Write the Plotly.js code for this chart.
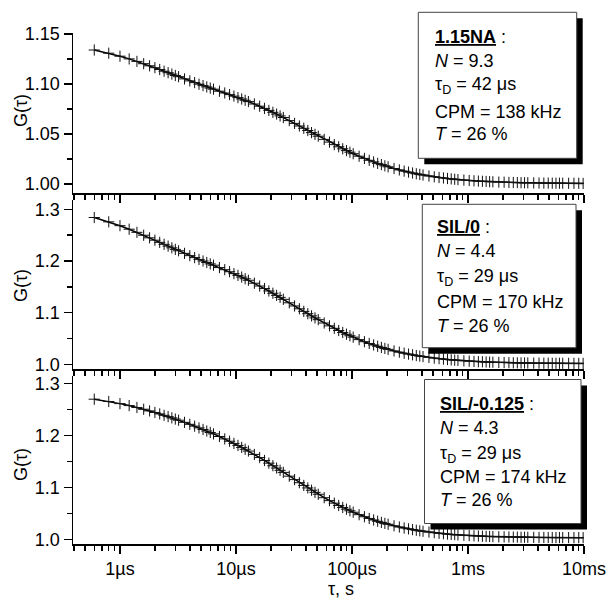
<!DOCTYPE html>
<html><head><meta charset="utf-8">
<script src="https://cdn.plot.ly/plotly-3.0.1.min.js"></script>
<style>html,body{margin:0;padding:0;background:#fff}#chart{width:607px;height:601px}</style>
</head><body><div id="chart"></div>
<script>
// lag times in microseconds
const tauMicro = [0.6,0.8,1.0,1.2,1.4,1.6,1.8,2.0,2.2,2.4,2.6,2.8,3.0,3.2,
3.6,4.0,4.4,4.8,5.2,5.6,6.0,6.4,
7.2,8.0,8.8,9.6,10.4,11.2,12.0,12.8,
14.4,16,17.6,19.2,20.8,22.4,24,25.6,
28.8,32,35.2,38.4,41.6,44.8,48,51.2,
57.6,64,70.4,76.8,83.2,89.6,96,102.4,
115.2,128,140.8,153.6,166.4,179.2,192,204.8,
230.4,256,281.6,307.2,332.8,358.4,384,409.6,
460.8,512,563.2,614.4,665.6,716.8,768,819.2,
921.6,1024,1126.4,1228.8,1331.2,1433.6,1536,1638.4,
1843.2,2048,2252.8,2457.6,2662.4,2867.2,3072,3276.8,
3686.4,4096,4505.6,4915.2,5324.8,5734.4,6144,6553.6,
7372.8,8192,9011.2,9830.4];

const gNA = [1.1340,1.1308,1.1278,1.1251,1.1226,1.1203,1.1182,1.1163,1.1145,1.1128,1.1113,1.1099,1.1085,1.1073,
1.1051,1.1031,1.1014,1.0998,1.0984,1.0971,1.0959,1.0948,
1.0928,1.0910,1.0894,1.0879,1.0864,1.0850,1.0837,1.0824,
1.0800,1.0778,1.0756,1.0736,1.0717,1.0699,1.0681,1.0665,
1.0634,1.0606,1.0580,1.0557,1.0535,1.0514,1.0496,1.0478,
1.0446,1.0419,1.0394,1.0372,1.0352,1.0334,1.0318,1.0303,
1.0278,1.0256,1.0237,1.0221,1.0206,1.0194,1.0182,1.0172,
1.0155,1.0141,1.0129,1.0119,1.0110,1.0102,1.0096,1.0090,
1.0080,1.0072,1.0065,1.0060,1.0055,1.0051,1.0047,1.0044,
1.0039,1.0035,1.0032,1.0029,1.0027,1.0025,1.0023,1.0022,
1.0019,1.0018,1.0016,1.0015,1.0014,1.0013,1.0012,1.0012,
1.0011,1.0010,1.0009,1.0009,1.0008,1.0008,1.0008,1.0008,
1.0007,1.0007,1.0007,1.0006];

const gSIL0 = [1.2841,1.2757,1.2683,1.2615,1.2554,1.2498,1.2448,1.2402,1.2360,1.2322,1.2287,1.2254,1.2224,1.2197,
1.2147,1.2103,1.2065,1.2030,1.1999,1.1970,1.1943,1.1918,
1.1872,1.1831,1.1792,1.1755,1.1721,1.1688,1.1656,1.1626,
1.1569,1.1515,1.1466,1.1419,1.1375,1.1334,1.1295,1.1258,
1.1190,1.1129,1.1074,1.1024,1.0979,1.0937,1.0898,1.0863,
1.0799,1.0744,1.0696,1.0654,1.0616,1.0582,1.0552,1.0525,
1.0477,1.0437,1.0403,1.0374,1.0349,1.0326,1.0307,1.0289,
1.0259,1.0235,1.0214,1.0197,1.0183,1.0170,1.0159,1.0149,
1.0133,1.0119,1.0109,1.0100,1.0092,1.0086,1.0080,1.0075,
1.0067,1.0061,1.0055,1.0051,1.0048,1.0045,1.0042,1.0040,
1.0036,1.0034,1.0031,1.0029,1.0028,1.0027,1.0026,1.0025,
1.0023,1.0022,1.0021,1.0021,1.0020,1.0019,1.0019,1.0019,
1.0018,1.0018,1.0017,1.0017];

const gSIL125 = [1.2694,1.2650,1.2609,1.2571,1.2535,1.2501,1.2469,1.2439,1.2411,1.2384,1.2359,1.2335,1.2312,1.2290,
1.2249,1.2211,1.2176,1.2143,1.2112,1.2082,1.2054,1.2027,
1.1977,1.1930,1.1886,1.1844,1.1805,1.1767,1.1731,1.1697,
1.1632,1.1572,1.1516,1.1464,1.1415,1.1370,1.1327,1.1287,
1.1214,1.1148,1.1089,1.1036,1.0988,1.0944,1.0903,1.0866,
1.0800,1.0744,1.0695,1.0651,1.0613,1.0579,1.0549,1.0521,
1.0474,1.0434,1.0401,1.0372,1.0347,1.0325,1.0306,1.0289,
1.0260,1.0237,1.0217,1.0201,1.0187,1.0174,1.0164,1.0155,
1.0139,1.0127,1.0116,1.0108,1.0101,1.0095,1.0090,1.0085,
1.0077,1.0072,1.0067,1.0063,1.0060,1.0057,1.0055,1.0053,
1.0049,1.0047,1.0045,1.0043,1.0042,1.0040,1.0040,1.0039,
1.0037,1.0036,1.0036,1.0035,1.0034,1.0034,1.0034,1.0033,
1.0033,1.0032,1.0032,1.0032];

const xTickVals = [1e-6, 1e-5, 1e-4, 1e-3, 1e-2];
const xTickText = ['1µs', '10µs', '100µs', '1ms', '10ms'];
const minorMult = [2,3,4,5,6,7,8,9];
const minorDecades = [1e-7, 1e-6, 1e-5, 1e-4, 1e-3];

const boxTitles = ['1.15NA', 'SIL/0', 'SIL/-0.125'];
const boxN = ['9.3', '4.4', '4.3'];
const boxTauD = ['42', '29', '29'];
const boxCPM = ['138', '170', '174'];
const boxT = ['26', '26', '26'];

const yLabel = 'G(τ)';
const xLabel = 'τ, s';

// ---- geometry helpers (pixels -> paper) ----
const ML = 73, MR = 23, MT = 33, MB = 57, W = 607, H = 601;
const PW = W - ML - MR, PH = H - MT - MB;
const px = x => (x - ML) / PW;
const py = y => (H - MB - y) / PH;

const FONT = 'Liberation Sans, Arial, Helvetica, sans-serif';
const tauSec = tauMicro.map(t => t * 1e-6);
const minorVals = [];
minorDecades.forEach(d => minorMult.forEach(m => { if (m * d >= 3.9e-7 && m * d <= 1e-2) minorVals.push(m * d); }));

function trace(y, xa, ya) {
  return {
    x: tauSec, y: y, xaxis: xa, yaxis: ya, type: 'scatter', mode: 'lines+markers',
    line: {color: '#000', width: 1.5},
    marker: {symbol: 'cross-thin-open', size: 8, color: '#111', line: {width: 1, color: '#111'}},
    showlegend: false, hoverinfo: 'skip'
  };
}

const data = [trace(gNA, 'x', 'y'), trace(gSIL0, 'x2', 'y2'), trace(gSIL125, 'x3', 'y3')];

function xAxis(anchor, labels) {
  return {
    type: 'log', range: [-6.405, -2], domain: [0, 1], anchor: anchor,
    showline: true, linecolor: '#000', linewidth: 1.5, mirror: false,
    ticks: 'outside', ticklen: 8, tickwidth: 1.5, tickcolor: '#000',
    tickmode: 'array', tickvals: xTickVals, ticktext: xTickText,
    showticklabels: labels, tickfont: {family: FONT, size: 18, color: '#000'},
    minor: {tickmode: 'array', tickvals: minorVals, ticks: 'outside', ticklen: 5, tickwidth: 1.5, tickcolor: '#000', showgrid: false},
    showgrid: false, zeroline: false
  };
}
function yAxis(anchor, dom, rng, dt, fmt) {
  return {
    domain: dom, range: rng, anchor: anchor,
    showline: true, linecolor: '#000', linewidth: 1.5, mirror: false,
    ticks: 'outside', ticklen: 8, tickwidth: 1.5, tickcolor: '#000',
    tickmode: 'linear', tick0: 1, dtick: dt, tickformat: fmt,
    tickfont: {family: FONT, size: 18, color: '#000'},
    minor: {dtick: dt / 2, tick0: 1, ticks: 'outside', ticklen: 5, tickwidth: 1.5, tickcolor: '#000', showgrid: false},
    showgrid: false, zeroline: false
  };
}

const layout = {
  width: W, height: H, margin: {l: ML, r: MR, t: MT, b: MB, pad: 0},
  paper_bgcolor: '#fff', plot_bgcolor: 'rgba(0,0,0,0)',
  font: {family: FONT, size: 18, color: '#000'},
  showlegend: false,
  xaxis: xAxis('y', false),
  xaxis2: xAxis('y2', false),
  xaxis3: xAxis('y3', true),
  yaxis: yAxis('x', [py(193), py(33)], [0.991, 1.151], 0.05, '.2f'),
  yaxis2: yAxis('x2', [py(369.3), py(200)], [0.9903, 1.318], 0.1, '.1f'),
  yaxis3: yAxis('x3', [py(544), py(376)], [0.991, 1.314], 0.1, '.1f'),
  shapes: [], annotations: []
};

// text boxes with drop shadow (pixel geometry)
const boxes = [
  {l: 418.3, r: 576.7, t: 12.3, b: 158.3, tx: 433, ys: [37, 60.5, 82.5, 112, 134]},
  {l: 422.3, r: 576.0, t: 204.3, b: 347.7, tx: 435, ys: [227.5, 251, 274, 302, 326]},
  {l: 424.5, r: 581.0, t: 379.5, b: 523.5, tx: 438, ys: [404, 427.5, 451, 476.7, 500]}
];
boxes.forEach((b, i) => {
  layout.shapes.push({type: 'rect', xref: 'paper', yref: 'paper', layer: 'above',
    x0: px(b.l + 6), x1: px(b.r + 6), y0: py(b.b + 6), y1: py(b.t + 6),
    fillcolor: '#000', line: {width: 0}});
  layout.shapes.push({type: 'rect', xref: 'paper', yref: 'paper', layer: 'above',
    x0: px(b.l), x1: px(b.r), y0: py(b.b), y1: py(b.t),
    fillcolor: '#fff', line: {width: 1, color: '#444'}});
  const lines = [
    '<b><u>' + boxTitles[i] + '</u></b> :',
    '<i>N</i> = ' + boxN[i],
    'τ<sub>D</sub> = ' + boxTauD[i] + ' μs',
    'CPM = ' + boxCPM[i] + ' kHz',
    '<i>T</i> = ' + boxT[i] + ' %'
  ];
  lines.forEach((t, k) => {
    layout.annotations.push({xref: 'paper', yref: 'paper', x: px(b.tx), y: py(b.ys[k] + (k === 2 ? 3 : 0)),
      xanchor: 'left', yanchor: 'middle', showarrow: false, text: t,
      font: {family: FONT, size: 18, color: '#000'}});
  });
});

// axis titles
[111, 286, 465].forEach(yc => {
  layout.annotations.push({xref: 'paper', yref: 'paper', x: px(21), y: py(yc), xanchor: 'center', yanchor: 'middle',
    textangle: -90, showarrow: false, text: yLabel, font: {family: FONT, size: 18, color: '#000'}});
});
layout.annotations.push({xref: 'paper', yref: 'paper', x: px(341), y: py(588.5), xanchor: 'center', yanchor: 'middle',
  showarrow: false, text: xLabel, font: {family: FONT, size: 18, color: '#000'}});

Plotly.newPlot('chart', data, layout, {staticPlot: true, displayModeBar: false});
</script>
</body></html>
